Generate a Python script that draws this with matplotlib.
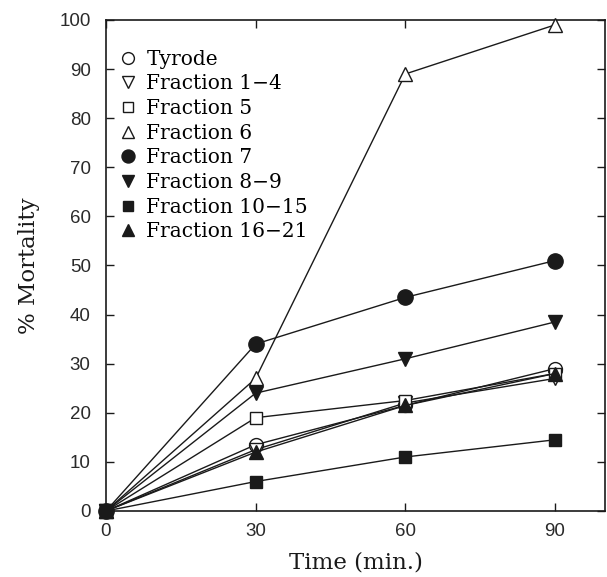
import matplotlib
matplotlib.use("Agg")
import matplotlib.pyplot as plt

time = [0, 30, 60, 90]
labels = ["Tyrode", "Fraction 1\u22124", "Fraction 5", "Fraction 6",
          "Fraction 7", "Fraction 8\u22129", "Fraction 10\u221215", "Fraction 16\u221221"]
tyrode = [0, 13.5, 21.5, 29]
frac_1_4 = [0, 12.5, 22, 27]
frac_5 = [0, 19, 22.5, 28]
frac_6 = [0, 27, 89, 99]
frac_7 = [0, 34, 43.5, 51]
frac_8_9 = [0, 24, 31, 38.5]
frac_10_15 = [0, 6, 11, 14.5]
frac_16_21 = [0, 12, 21.5, 28]
series = [tyrode, frac_1_4, frac_5, frac_6, frac_7, frac_8_9, frac_10_15, frac_16_21]

styles = [
    dict(marker="o", mfc="white", ms=10),
    dict(marker="v", mfc="white", ms=10),
    dict(marker="s", mfc="white", ms=8.5),
    dict(marker="^", mfc="white", ms=10),
    dict(marker="o", mfc="#1a1a1a", ms=11),
    dict(marker="v", mfc="#1a1a1a", ms=10),
    dict(marker="s", mfc="#1a1a1a", ms=8.5),
    dict(marker="^", mfc="#1a1a1a", ms=10),
]

fig = plt.figure(figsize=(6.07, 5.77), dpi=100)
ax = fig.add_axes([0.1746, 0.1144, 0.822, 0.851])

for y, lab, st in zip(series, labels, styles):
    ax.plot(time, y, color="#1a1a1a", lw=1.0, mec="#1a1a1a", mew=1.0,
            label=lab, clip_on=False, zorder=3, **st)

ax.set_xlim(0, 100)
ax.set_ylim(0, 100)
ax.set_xticks([0, 30, 60, 90])
ax.set_yticks(range(0, 101, 10))
ax.tick_params(direction="in", top=True, right=True, length=6, width=1.0,
               labelsize=13.5, colors="#1a1a1a", labelcolor="#2a2a2a")
ax.tick_params(axis="y", pad=11)
ax.tick_params(axis="x", pad=9)
for t in ax.get_xticklabels() + ax.get_yticklabels():
    t.set_fontfamily("Liberation Sans")
for s in ax.spines.values():
    s.set_linewidth(1.2)
    s.set_color("#1a1a1a")

ax.set_xlabel("Time (min.)", fontsize=16.5, fontfamily="DejaVu Serif",
              color="#1a1a1a", labelpad=8)
ax.set_ylabel("% Mortality", fontsize=16.5, fontfamily="DejaVu Serif",
              color="#1a1a1a", labelpad=14)

leg = ax.legend(loc="upper left", frameon=False, prop={"family": "DejaVu Serif", "size": 14.5},
                handlelength=0.8, handletextpad=0.5, labelspacing=0.28, markerscale=0.85,
                borderaxespad=0.3, bbox_to_anchor=(0.0, 0.968))
for h in leg.legend_handles:
    h.set_linestyle("none")

fig.savefig("out.png", dpi=100, facecolor="white")
